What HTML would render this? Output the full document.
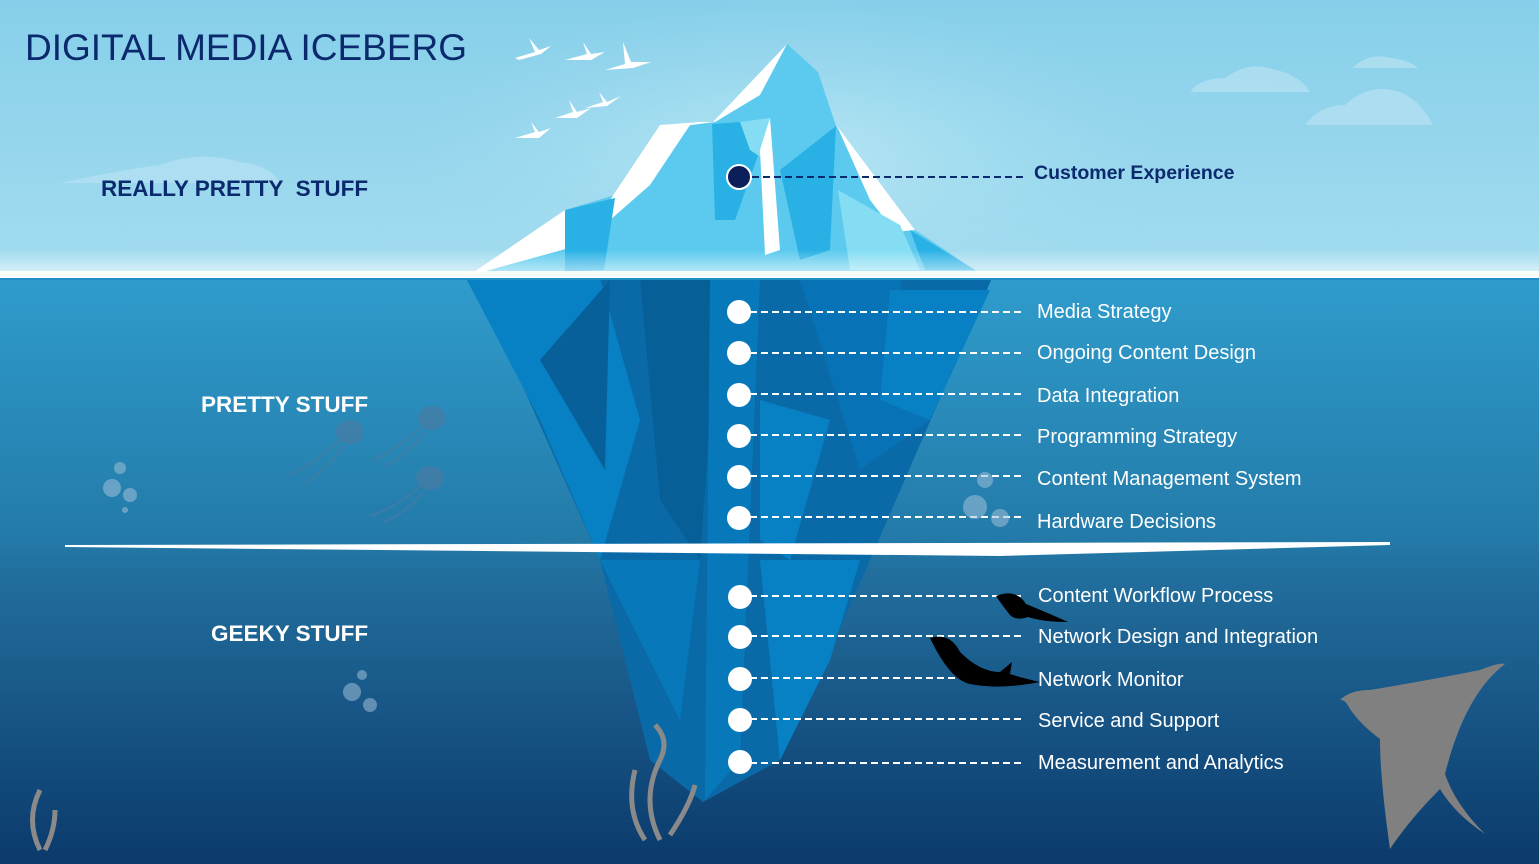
<!DOCTYPE html>
<html><head><meta charset="utf-8"><style>
html,body{margin:0;padding:0;width:1539px;height:864px;overflow:hidden;}
svg{display:block}
text{font-family:"Liberation Sans",sans-serif}
</style></head><body>
<svg width="1539" height="864" viewBox="0 0 1539 864" xmlns="http://www.w3.org/2000/svg">
<defs>
<linearGradient id="sky" x1="0" y1="0" x2="0" y2="1">
<stop offset="0" stop-color="#86cfea"/><stop offset="1" stop-color="#a4dcef"/></linearGradient>
<radialGradient id="glow" cx="0.5" cy="0.5" r="0.5"><stop offset="0" stop-color="#b8e6f4"/><stop offset="1" stop-color="#a0dbef" stop-opacity="0"/></radialGradient>
<linearGradient id="sea" x1="0" y1="0" x2="0" y2="1">
<stop offset="0" stop-color="#2f9ccc"/><stop offset="0.45" stop-color="#237aa8"/><stop offset="0.5" stop-color="#226f9e"/><stop offset="1" stop-color="#0b3a6c"/></linearGradient>
<linearGradient id="foam" x1="0" y1="0" x2="0" y2="1"><stop offset="0" stop-color="#fff" stop-opacity="0"/><stop offset="1" stop-color="#fff"/></linearGradient>
</defs>
<rect width="1539" height="280" fill="url(#sky)"/>
<ellipse cx="790" cy="160" rx="380" ry="160" fill="url(#glow)"/>
<rect y="278" width="1539" height="586" fill="url(#sea)"/>
<g fill="#b3e0f1" opacity="0.8">
<path d="M60 183 Q120 170 160 165 Q200 150 240 162 Q270 165 280 183 Z"/>
<path d="M1190 92 Q1200 78 1225 78 Q1250 60 1275 70 Q1300 75 1310 92 Z"/>
<path d="M1305 125 Q1320 105 1345 105 Q1370 82 1400 92 Q1420 100 1433 125 Z"/>
<path d="M1352 68 Q1370 52 1390 58 Q1410 60 1418 68 Z"/>
</g>
<polygon points="466,278 992,278 935,410 870,560 800,720 780,760 703,802 650,760 600,560 520,380" fill="#0a6aa8"/>
<polygon points="466,278 600,278 640,420 600,560 540,420" fill="#0880c4"/>
<polygon points="540,360 610,280 605,470" fill="#07609a"/>
<polygon points="640,278 720,278 700,560 660,500" fill="#075f98"/>
<polygon points="710,278 760,278 740,760 705,800" fill="#0779bb"/>
<polygon points="760,400 830,420 790,560 760,540" fill="#0880c4"/>
<polygon points="800,280 900,280 930,420 860,470" fill="#0872b6"/>
<polygon points="890,290 990,290 930,420 880,400" fill="#0880c4"/>
<polygon points="760,560 860,560 830,660 780,760" fill="#0880c4"/>
<polygon points="600,560 700,560 680,720" fill="#0779bb"/>
<polygon points="468,276 565,210 615,195 660,130 713,122 787,44 818,72 836,126 915,230 975,270 975,278 468,278" fill="#5ccaee"/>
<polygon points="468,276 565,210 610,200 660,125 700,122 713,122 787,44 760,95 715,122 690,125 650,185 610,220 580,245" fill="#fff"/>
<polygon points="565,210 615,198 604,270 565,272" fill="#29b1e5"/>
<polygon points="712,124 740,122 760,150 735,220 715,220" fill="#29b1e5"/>
<polygon points="740,122 770,118 765,160 750,150" fill="#85ddf3"/>
<polygon points="837,126 915,230 895,232 870,200" fill="#fff"/>
<polygon points="760,150 770,118 780,250 765,255" fill="#fff"/>
<polygon points="838,190 900,225 920,270 850,270" fill="#85ddf3"/>
<polygon points="910,230 975,270 925,270" fill="#29b1e5"/>
<polygon points="780,170 836,126 830,250 800,260" fill="#29b1e5"/>
<rect y="250" width="1539" height="28" fill="url(#foam)" opacity="0.7"/>
<rect y="271" width="1539" height="7" fill="#ffffff" opacity="0.85"/>
<rect y="278" width="1539" height="2" fill="#1f8ec4"/>
<polygon points="65,545 1390,542 1390,545 1000,556 65,547" fill="#fff"/>
<g fill="#fff">
<path d="M515 58 l20 -6 l-6 -14 l10 12 l12 -4 l-10 8 l-22 6z"/>
<path d="M565 60 l22 -6 l-4 -12 l8 12 l14 -2 l-14 8z"/>
<path d="M605 70 l20 -6 l-2 -22 l8 20 l20 0 l-18 6z"/>
<path d="M585 108 l18 -6 l-4 -10 l8 10 l14 -6 l-14 10z"/>
<path d="M555 118 l18 -6 l-4 -12 l8 12 l14 -4 l-14 10z"/>
<path d="M515 138 l20 -6 l-4 -10 l8 10 l12 -4 l-12 10z"/>
</g>
<line x1="752" y1="177" x2="1025" y2="177" stroke="#0b2a6e" stroke-width="2" stroke-dasharray="7,4"/>
<circle cx="739" cy="177" r="12" fill="#0b1f5a" stroke="#fff" stroke-width="2"/>
<g stroke="#fff" stroke-width="2" stroke-dasharray="7,4">
<line x1="750" y1="312" x2="1025" y2="312"/><line x1="750" y1="353" x2="1025" y2="353"/>
<line x1="750" y1="394" x2="1025" y2="394"/><line x1="750" y1="435" x2="1025" y2="435"/>
<line x1="750" y1="476" x2="1025" y2="476"/><line x1="750" y1="517" x2="1025" y2="517"/>
<line x1="750" y1="596" x2="1025" y2="596"/><line x1="750" y1="636" x2="1025" y2="636"/>
<line x1="750" y1="678" x2="1025" y2="678"/><line x1="750" y1="719" x2="1025" y2="719"/>
<line x1="750" y1="763" x2="1025" y2="763"/>
</g>
<g fill="#fff">
<circle cx="739" cy="312" r="12"/><circle cx="739" cy="353" r="12"/><circle cx="739" cy="395" r="12"/>
<circle cx="739" cy="436" r="12"/><circle cx="739" cy="477" r="12"/><circle cx="739" cy="518" r="12"/>
<circle cx="740" cy="597" r="12"/><circle cx="740" cy="637" r="12"/><circle cx="740" cy="679" r="12"/>
<circle cx="740" cy="720" r="12"/><circle cx="740" cy="762" r="12"/>
</g>
<g fill="#000">
<path d="M996 596 q20 -8 30 8 q15 6 42 18 q-25 0 -40 -5 q-12 4 -18 -2 q-8 -10 -14 -19z"/>
<path d="M930 638 q20 -6 30 14 q20 20 40 20 l12 -10 l-2 12 q12 4 30 8 q-40 8 -70 2 q-20 -4 -40 -46z"/>
</g>
<path d="M1340 700 q10 -10 30 -10 q60 -10 110 -20 q20 -8 25 -6 q-40 30 -60 110 q10 30 40 60 q-30 -20 -45 -45 q-30 30 -50 60 q-10 -70 -10 -110 q-20 -15 -30 -30 q-5 -10 -10 -9z" fill="#808080"/>
<g fill="none" stroke="#8a8a8a" stroke-width="5">
<path d="M660 840 q-20 -40 0 -80 q10 -20 -5 -35"/><path d="M645 840 q-20 -30 -10 -70"/>
<path d="M670 835 q20 -30 25 -50"/>
<path d="M40 850 q-15 -30 0 -60"/><path d="M45 850 q10 -20 10 -40"/>
</g>
<g fill="#9fbfd8" opacity="0.55">
<circle cx="112" cy="488" r="9"/><circle cx="130" cy="495" r="7"/><circle cx="120" cy="468" r="6"/><circle cx="125" cy="510" r="3"/>
<circle cx="352" cy="692" r="9"/><circle cx="370" cy="705" r="7"/><circle cx="362" cy="675" r="5"/>
<circle cx="975" cy="507" r="12"/><circle cx="985" cy="480" r="8"/><circle cx="1000" cy="518" r="9"/>
</g>
<g fill="#4d7aa0" opacity="0.6">
<ellipse cx="350" cy="432" rx="14" ry="12"/><ellipse cx="432" cy="418" rx="14" ry="12"/><ellipse cx="430" cy="478" rx="14" ry="12"/>
</g>
<g stroke="#4d7aa0" stroke-width="2" fill="none" opacity="0.6">
<path d="M340 440 q-20 20 -50 35"/><path d="M345 445 q-15 20 -40 40"/>
<path d="M422 426 q-20 20 -50 35"/><path d="M425 432 q-15 20 -40 35"/>
<path d="M420 486 q-20 20 -50 30"/><path d="M423 492 q-15 20 -40 30"/>
</g>
<text x="25" y="60" font-size="37" fill="#0b2a6e">DIGITAL MEDIA ICEBERG</text>
<text x="101" y="196" font-size="22.5" font-weight="bold" fill="#0b2a6e" xml:space="preserve">REALLY PRETTY  STUFF</text>
<text x="201" y="412" font-size="22.5" font-weight="bold" fill="#fff">PRETTY STUFF</text>
<text x="211" y="641" font-size="22.5" font-weight="bold" fill="#fff">GEEKY STUFF</text>
<text x="1034" y="179" font-size="19.5" font-weight="bold" fill="#0b2a6e">Customer Experience</text>
<g font-size="20" fill="#fff">
<text x="1037" y="318">Media Strategy</text>
<text x="1037" y="359">Ongoing Content Design</text>
<text x="1037" y="402">Data Integration</text>
<text x="1037" y="443">Programming Strategy</text>
<text x="1037" y="485">Content Management System</text>
<text x="1037" y="528">Hardware Decisions</text>
<text x="1038" y="602">Content Workflow Process</text>
<text x="1038" y="643">Network Design and Integration</text>
<text x="1038" y="686">Network Monitor</text>
<text x="1038" y="727">Service and Support</text>
<text x="1038" y="769">Measurement and Analytics</text>
</g>
</svg>
</body></html>
